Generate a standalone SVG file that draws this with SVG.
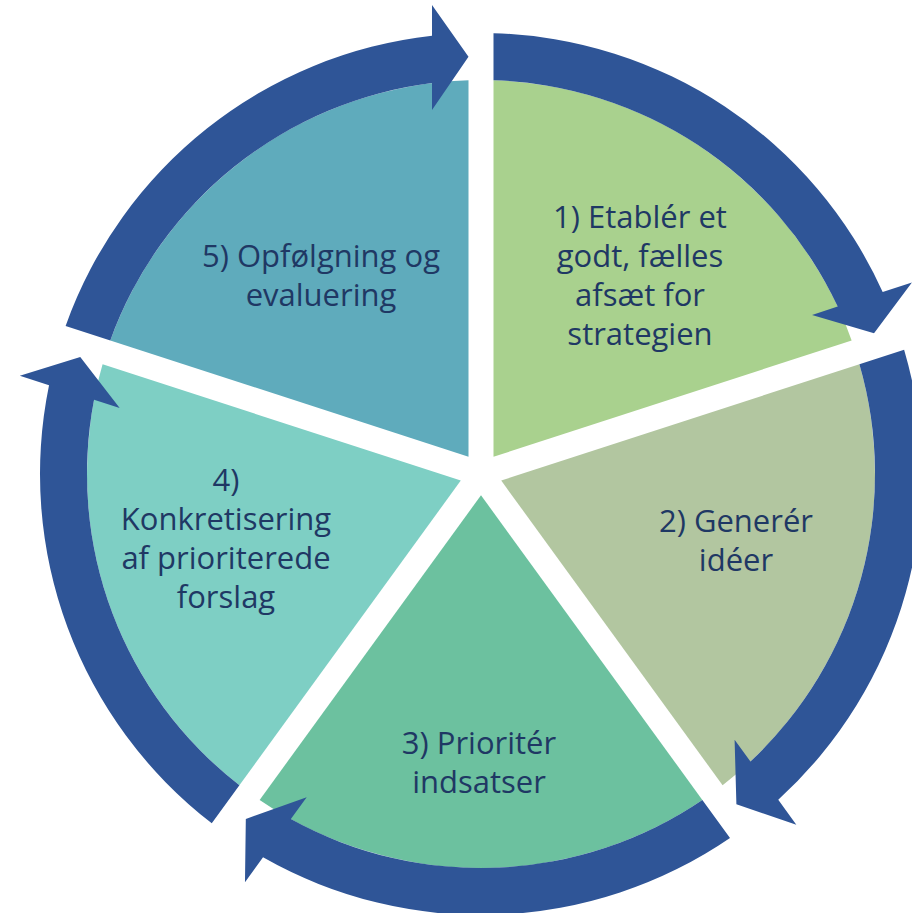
<svg xmlns="http://www.w3.org/2000/svg" width="912" height="913" viewBox="0 0 912 913">
<defs>
<path id="wedge" d="M12.5,-17.2 L12.5,-393.8 A394,394 0 0 1 370.67,-133.58 Z"/>
<path id="arrow" d="M-415.39,-148.11 A441,441 0 0 1 -49,-438.27 L-49,-469 L-12.5,-417.31 L-49,-364 L-49,-390.94 A394,394 0 0 0 -370.67,-133.58 Z"/>
</defs>
<style>
.lbl{font-family:"Open Sans","Noto Sans",sans-serif;font-size:31px;fill:#1F3864;text-anchor:middle}
.arr{fill:#2F5597}
</style>
<rect width="912" height="913" fill="#ffffff"/>
<g id="seg1">
 <use href="#wedge" transform="translate(481,474)" fill="#A9D18E"/>
 <text class="lbl"><tspan x="640" y="228">1) Etablér et</tspan><tspan x="640" y="267">godt, fælles</tspan><tspan x="640" y="306">afsæt for</tspan><tspan x="640" y="345">strategien</tspan></text>
</g>
<g id="seg2">
 <use href="#wedge" transform="translate(481,474) rotate(72)" fill="#B2C6A0"/>
 <text class="lbl"><tspan x="736" y="532">2) Generér</tspan><tspan x="736" y="571">idéer</tspan></text>
</g>
<g id="seg3">
 <use href="#wedge" transform="translate(481,474) rotate(144)" fill="#6CC19F"/>
 <text class="lbl"><tspan x="479" y="754">3) Prioritér</tspan><tspan x="479" y="793">indsatser</tspan></text>
</g>
<g id="seg4">
 <use href="#wedge" transform="translate(481,474) rotate(216)" fill="#7ECFC4"/>
 <text class="lbl"><tspan x="226" y="491">4)</tspan><tspan x="226" y="530">Konkretisering</tspan><tspan x="226" y="569">af prioriterede</tspan><tspan x="226" y="608">forslag</tspan></text>
</g>
<g id="seg5">
 <use href="#wedge" transform="translate(481,474) rotate(288)" fill="#5FABBC"/>
 <text class="lbl"><tspan x="321" y="267">5) Opfølgning og</tspan><tspan x="321" y="306">evaluering</tspan></text>
</g>
<g id="connectors" transform="translate(481,474)">
 <use href="#arrow" class="arr" transform="rotate(72)"/>
 <use href="#arrow" class="arr" transform="rotate(144)"/>
 <use href="#arrow" class="arr" transform="rotate(216)"/>
 <use href="#arrow" class="arr" transform="rotate(288)"/>
 <use href="#arrow" class="arr"/>
</g>
</svg>
